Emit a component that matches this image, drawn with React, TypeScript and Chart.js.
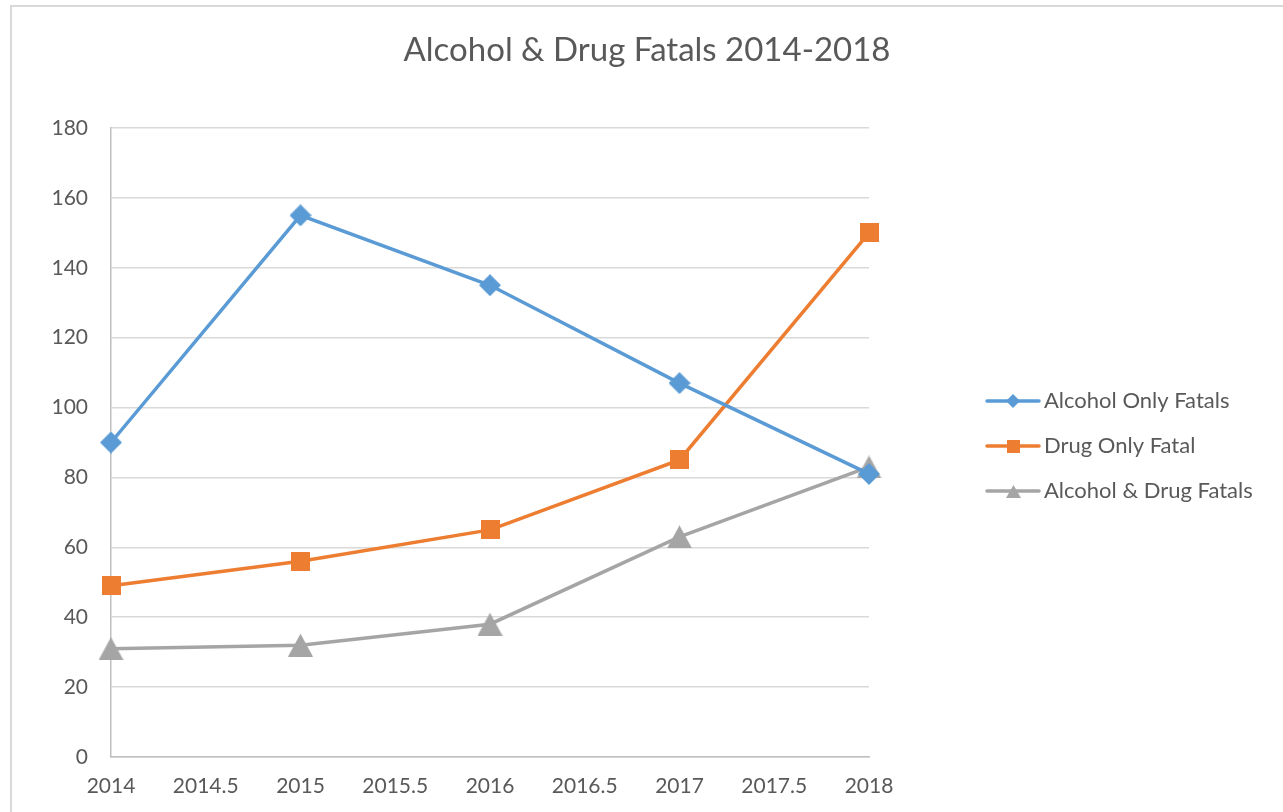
import React, { useEffect, useRef } from 'react';
import { Chart, registerables } from 'chart.js';

Chart.register(...registerables);

const chartTitle = 'Alcohol & Drug Fatals 2014-2018';
const years = [2014, 2015, 2016, 2017, 2018];
const alcoholOnly = [90, 155, 135, 107, 81];
const drugOnly = [49, 56, 65, 85, 150];
const alcoholDrug = [31, 32, 38, 63, 83];
const seriesNames = ['Alcohol Only Fatals', 'Drug Only Fatal', 'Alcohol & Drug Fatals'];
const seriesColors = ['#5b9bd5', '#ed7d31', '#a5a5a5'];
const seriesShapes = ['diamond', 'square', 'triangle'];
const xTicks = [2014, 2014.5, 2015, 2015.5, 2016, 2016.5, 2017, 2017.5, 2018];
const yTicks = [0, 20, 40, 60, 80, 100, 120, 140, 160, 180];

const FONT = 'Lato, "Open Sans", sans-serif';
const TEXT = '#595959';

function makeMarker(shape: string, color: string, w: number, h: number) {
  const c = document.createElement('canvas');
  c.width = w;
  c.height = h;
  const ctx = c.getContext('2d')!;
  ctx.fillStyle = color;
  ctx.beginPath();
  if (shape === 'diamond') {
    ctx.moveTo(w / 2, 0);
    ctx.lineTo(w, h / 2);
    ctx.lineTo(w / 2, h);
    ctx.lineTo(0, h / 2);
  } else if (shape === 'square') {
    ctx.rect(0, 0, w, h);
  } else {
    ctx.moveTo(w / 2, 0);
    ctx.lineTo(w, h);
    ctx.lineTo(0, h);
  }
  ctx.closePath();
  ctx.fill();
  return c;
}

const markerSize: Record<string, [number, number]> = {
  diamond: [22, 22],
  square: [19, 19],
  triangle: [25, 23],
};
const legendMarkerSize: Record<string, [number, number]> = {
  diamond: [14, 14],
  square: [13, 13],
  triangle: [15, 13],
};

export default function App() {
  const ref = useRef<HTMLCanvasElement | null>(null);

  useEffect(() => {
    if (!ref.current) return;
    const seriesValues = [alcoholOnly, drugOnly, alcoholDrug];
    const markers = seriesShapes.map((s, i) =>
      makeMarker(s, seriesColors[i], markerSize[s][0], markerSize[s][1])
    );
    const legendMarkers = seriesShapes.map((s, i) =>
      makeMarker(s, seriesColors[i], legendMarkerSize[s][0], legendMarkerSize[s][1])
    );

    const decor = {
      id: 'decor',
      beforeDraw(chart: any) {
        const ctx = chart.ctx;
        ctx.save();
        ctx.fillStyle = '#ffffff';
        ctx.fillRect(0, 0, chart.width, chart.height);
        ctx.fillStyle = '#d9d9d9';
        ctx.fillRect(10, 5, 2, chart.height);
        ctx.fillRect(10, 5, chart.width, 2);
        ctx.restore();
      },
      afterDraw(chart: any) {
        const ctx = chart.ctx;
        ctx.save();
        ctx.fillStyle = TEXT;
        ctx.font = `33px ${FONT}`;
        ctx.textAlign = 'center';
        ctx.textBaseline = 'middle';
        ctx.fillText(chartTitle, 647, 50);

        const ys = [401, 446, 491];
        seriesNames.forEach((name, i) => {
          const y = ys[i];
          ctx.strokeStyle = seriesColors[i];
          ctx.lineWidth = 3.5;
          ctx.lineCap = 'round';
          ctx.beginPath();
          ctx.moveTo(987, y);
          ctx.lineTo(1039, y);
          ctx.stroke();
          const m = legendMarkers[i];
          ctx.drawImage(m, Math.round(1013 - m.width / 2), Math.round(y - m.height / 2));
          ctx.fillStyle = TEXT;
          ctx.font = `22px ${FONT}`;
          ctx.textAlign = 'left';
          ctx.textBaseline = 'middle';
          ctx.fillText(name, 1044, y);
        });
        ctx.restore();
      },
    };

    const chart = new Chart(ref.current, {
      type: 'line',
      data: {
        datasets: seriesNames.map((name, i) => ({
          label: name,
          data: years.map((x, j) => ({ x, y: seriesValues[i][j] })),
          borderColor: seriesColors[i],
          backgroundColor: seriesColors[i],
          borderWidth: 3.5,
          tension: 0,
          pointStyle: markers[i],
          pointRadius: 11,
          clip: false,
        })),
      },
      options: {
        responsive: false,
        animation: false,
        devicePixelRatio: 1,
        events: [],
        layout: { padding: { top: 128, right: 414, left: 0, bottom: 0 } },
        plugins: {
          legend: { display: false },
          title: { display: false },
          tooltip: { enabled: false },
        },
        scales: {
          x: {
            type: 'linear',
            min: 2014,
            max: 2018,
            afterBuildTicks: (scale: any) => {
              scale.ticks = xTicks.map((v) => ({ value: v }));
            },
            afterFit: (scale: any) => {
              scale.height = 55;
            },
            grid: { display: false, drawTicks: false },
            border: { display: true, color: '#bfbfbf', width: 1.5 },
            ticks: {
              color: TEXT,
              font: { family: FONT, size: 21 },
              padding: 17,
              maxRotation: 0,
              autoSkip: false,
              callback: (v: any) => String(v),
            },
          },
          y: {
            type: 'linear',
            min: 0,
            max: 180,
            afterBuildTicks: (scale: any) => {
              scale.ticks = yTicks.map((v) => ({ value: v }));
            },
            afterFit: (scale: any) => {
              scale.width = 111;
            },
            grid: { color: '#d9d9d9', lineWidth: 1.5, drawTicks: false },
            border: { display: true, color: '#bfbfbf', width: 1.5 },
            ticks: {
              color: TEXT,
              font: { family: FONT, size: 21 },
              padding: 23,
              callback: (v: any) => String(v),
            },
          },
        },
      },
      plugins: [decor],
    });
    return () => chart.destroy();
  }, []);

  return (
    <div style={{ position: 'fixed', left: 0, top: 0, width: 1283, height: 812, overflow: 'hidden', background: '#fff' }}>
      <canvas ref={ref} width={1283} height={812} style={{ display: 'block', width: 1283, height: 812 }} />
    </div>
  );
}
